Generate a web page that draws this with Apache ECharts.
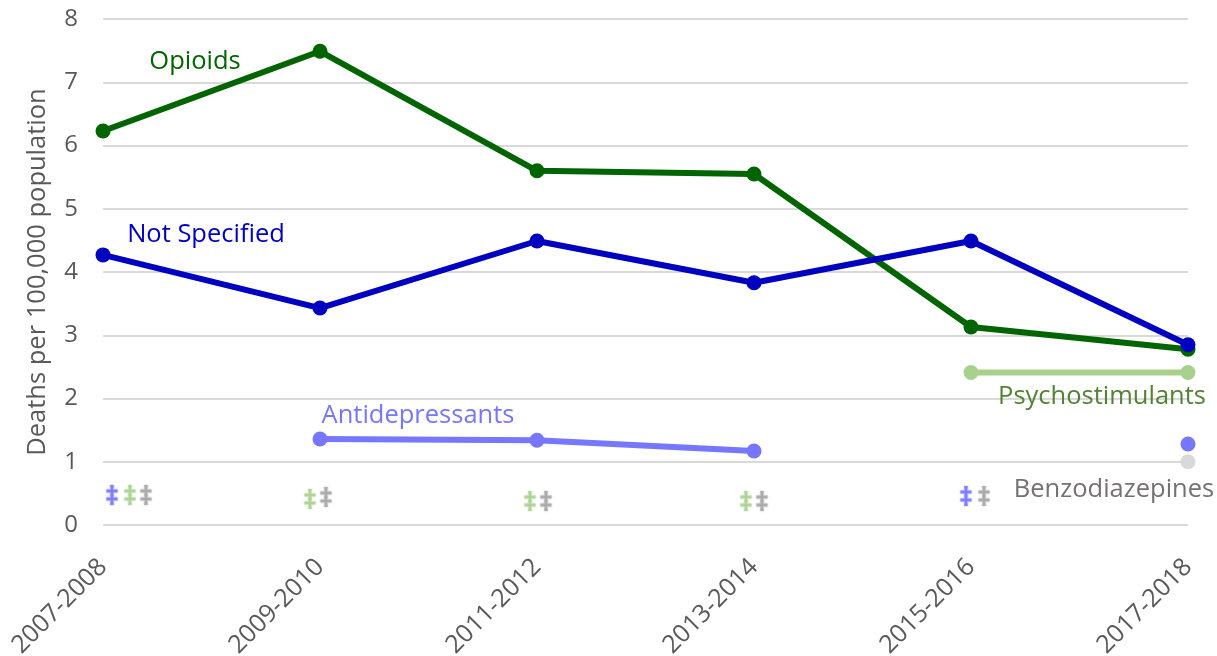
<!DOCTYPE html>
<html>
<head>
<meta charset="utf-8">
<title>Deaths per 100,000 population</title>
<script src="https://cdn.jsdelivr.net/npm/echarts@6/dist/echarts.min.js"></script>
<style>
  html, body { margin: 0; padding: 0; background: #fff; }
  #chart { width: 1217px; height: 656px; }
</style>
</head>
<body>
<div id="chart"></div>
<script>
const periods = ['2007-2008', '2009-2010', '2011-2012', '2013-2014', '2015-2016', '2017-2018'];
const opioids = [6.23, 7.49, 5.6, 5.55, 3.13, 2.78];
const notSpecified = [4.27, 3.43, 4.49, 3.83, 4.49, 2.85];
const antidepressants = [null, 1.36, 1.34, 1.17, null, 1.28];
const psychostimulants = [null, null, null, null, 2.41, 2.41];
const benzodiazepines = [null, null, null, null, null, 1.0];

// suppressed-rate markers: [period index, height on the axis]
const daggerBlue = [[0, 0.47], [4, 0.45]];
const daggerGreen = [[0, 0.47], [1, 0.41], [2, 0.38], [3, 0.38]];
const daggerGrey = [[0, 0.47], [1, 0.43], [2, 0.38], [3, 0.38], [4, 0.46]];

const FONT = '"Open Sans", sans-serif';
const chart = echarts.init(document.getElementById('chart'), null, { renderer: 'canvas' });

// a line series with one text label attached to one of its points
function lineSeries(name, data, color, width, labelAt, labelColor, offset) {
  return {
    name,
    type: 'line',
    data: data.map((v, i) => i === labelAt ? {
      value: v,
      label: {
        show: true,
        formatter: name,
        position: 'inside',
        offset,
        color: labelColor,
        fontFamily: FONT,
        fontSize: 25.5
      }
    } : v),
    connectNulls: false,
    symbol: 'circle',
    symbolSize: 15,
    showSymbol: true,
    showAllSymbol: true,
    itemStyle: { color },
    lineStyle: { color, width },
    emphasis: { disabled: true },
    animation: false
  };
}

function daggerSeries(data, color, dx) {
  return {
    type: 'scatter',
    data: data.map(d => ({
      value: d,
      label: { offset: [dx[d[0]], 2] }
    })),
    symbolSize: 0,
    itemStyle: { color: 'transparent' },
    label: {
      show: true,
      position: 'inside',
      formatter: '\u2021',
      color,
      fontFamily: FONT,
      fontSize: 27,
      fontWeight: 'bold',
      textShadowColor: color,
      textShadowBlur: 2
    },
    silent: true,
    animation: false
  };
}

const option = {
  animation: false,
  backgroundColor: '#fff',
  grid: { left: 103, right: 29, top: 19, bottom: 131, outerBoundsMode: 'none' },
  xAxis: {
    type: 'category',
    data: periods,
    boundaryGap: false,
    axisLine: { show: false },
    axisTick: { show: false },
    axisLabel: {
      rotate: 45,
      interval: 0,
      margin: 38,
      color: '#595959',
      fontFamily: FONT,
      fontSize: 25
    }
  },
  yAxis: {
    type: 'value',
    min: 0,
    max: 8,
    interval: 1,
    name: 'Deaths per 100,000 population',
    nameLocation: 'middle',
    nameGap: 52,
    nameTextStyle: { color: '#595959', fontFamily: FONT, fontSize: 25.5 },
    axisLine: { show: false },
    axisTick: { show: false },
    axisLabel: { margin: 25, color: '#595959', fontFamily: FONT, fontSize: 24 },
    splitLine: { lineStyle: { color: '#d9d9d9', width: 2 } }
  },
  series: [
    daggerSeries(daggerBlue, '#7676ff', [9, 0, 0, 0, -5]),
    daggerSeries(daggerGreen, '#a9d18e', [27, -10, -7, -8, 0]),
    daggerSeries(daggerGrey, '#a5a5a5', [43, 6, 9, 8, 13]),
    lineSeries('Benzodiazepines', benzodiazepines, '#d9d9d9', 6, 5, '#767171', [-74, 28]),
    lineSeries('Psychostimulants', psychostimulants, '#a9d18e', 6, 5, '#548235', [-86, 24]),
    lineSeries('Antidepressants', antidepressants, '#7676ff', 6, 1, '#7676ff', [98, -23]),
    lineSeries('Opioids', opioids, '#006400', 6, 1, '#006400', [-125, 10]),
    lineSeries('Not Specified', notSpecified, '#0000c0', 6, 0, '#0000c0', [103, -20])
  ]
};

chart.setOption(option);
window.addEventListener('resize', () => chart.resize());
</script>
</body>
</html>
